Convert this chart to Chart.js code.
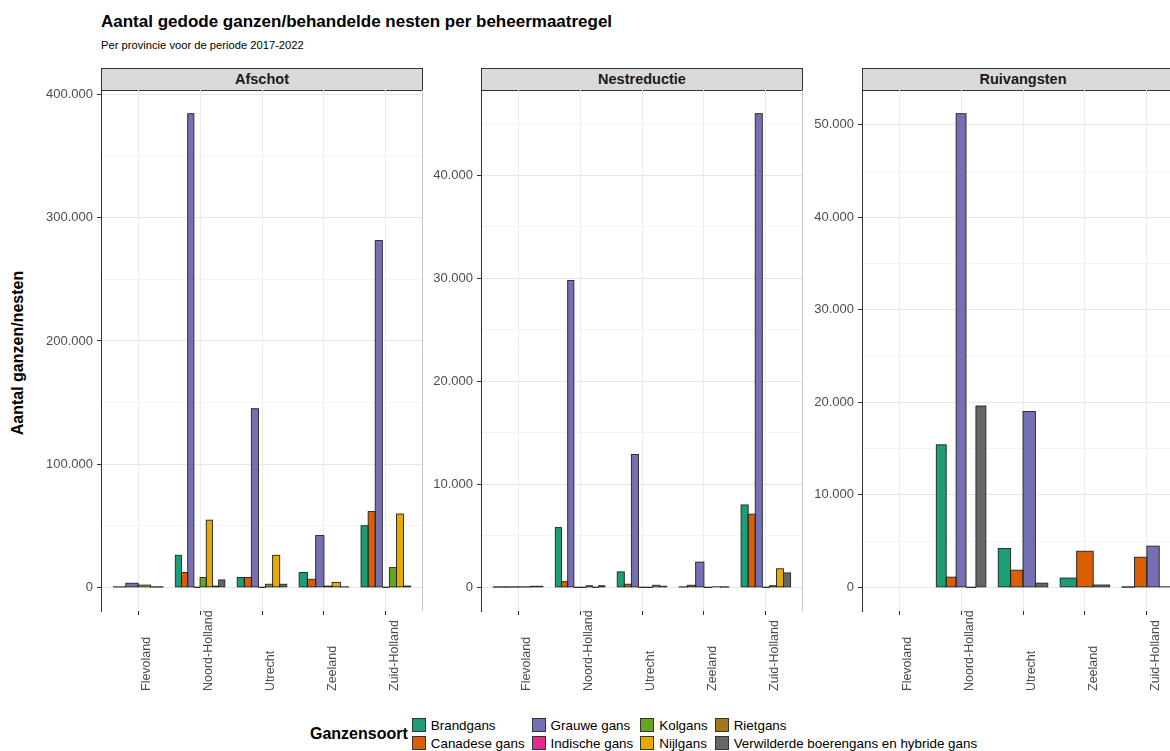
<!DOCTYPE html>
<html>
<head>
<meta charset="utf-8">
<title>Aantal gedode ganzen/behandelde nesten per beheermaatregel</title>
<script src="https://cdn.jsdelivr.net/npm/chart.js@4.4.0/dist/chart.umd.min.js"></script>
<style>
  html, body { margin: 0; padding: 0; background: #fff; }
  #page { position: relative; width: 1170px; height: 751px; overflow: hidden;
          font-family: "Liberation Sans", Arial, Helvetica, sans-serif; color: #000; }
  .title { position: absolute; left: 101px; top: 12px; font-size: 17px; font-weight: bold; white-space: nowrap; }
  .subtitle { position: absolute; left: 101px; top: 39px; font-size: 11.2px; white-space: nowrap; }
  .strip { position: absolute; top: 68px; height: 23px; box-sizing: border-box; border: 1px solid #333;
           background: #d9d9d9; font-weight: bold; font-size: 14.5px; text-align: center; line-height: 21px; color: #1a1a1a; }
  .panel { position: absolute; top: 76px; }
  .ytitle { position: absolute; left: 18px; top: 353px; transform: translate(-50%, -50%) rotate(-90deg);
            font-weight: bold; font-size: 16px; white-space: nowrap; }
  .legend { position: absolute; left: 310px; top: 716px; display: flex; align-items: center; }
  .legend .ltitle { font-weight: bold; font-size: 16px; margin-right: 4px; }
  .legend .items { display: grid; grid-template-rows: 18px 18px; grid-auto-flow: column; column-gap: 7px; }
  .legend .item { display: flex; align-items: center; font-size: 13.4px; white-space: nowrap; color: #000; }
  .legend .key { width: 14px; height: 14px; box-sizing: border-box; border: 1px solid #333; margin-right: 5px; }
</style>
</head>
<body>
<div id="page">
  <div class="title">Aantal gedode ganzen/behandelde nesten per beheermaatregel</div>
  <div class="subtitle">Per provincie voor de periode 2017-2022</div>
  <div class="ytitle">Aantal ganzen/nesten</div>
  <div id="panels"></div>
  <div class="legend"><div class="ltitle">Ganzensoort</div><div class="items" id="legendItems"></div></div>
</div>
<script>
// Provinces on the x axis of every facet
const provinces = ['Flevoland', 'Noord-Holland', 'Utrecht', 'Zeeland', 'Zuid-Holland'];

// Goose species (legend order) and their Dark2 colours
const species = ['Brandgans', 'Canadese gans', 'Grauwe gans', 'Indische gans',
                 'Kolgans', 'Nijlgans', 'Rietgans', 'Verwilderde boerengans en hybride gans'];
const speciesColors = ['#1B9E77', '#D95F02', '#7570B3', '#E7298A',
                       '#66A61E', '#E6AB02', '#A6761D', '#666666'];

// Management measures (one facet each)
const measures = ['Afschot', 'Nestreductie', 'Ruivangsten'];

// Afschot: one row per species, one value per province (null = not recorded)
const afschotValues = [
  [300,   26000,  8000,   12000, 50000],   // Brandgans
  [null,  12000,  8000,   6500,  61500],   // Canadese gans
  [3300,  384500, 145000, 42000, 281500],  // Grauwe gans
  [null,  0,      0,      null,  0],       // Indische gans
  [null,  8000,   2500,   1000,  16000],   // Kolgans
  [1800,  54500,  26000,  4000,  59500],   // Nijlgans
  [null,  1000,   null,   null,  null],    // Rietgans
  [200,   6000,   2500,   300,   1000]     // Verwilderde boerengans en hybride gans
];

// Nestreductie
const nestreductieValues = [
  [20,   5800,  1500,  30,   8000],   // Brandgans
  [20,   550,   300,   200,  7100],   // Canadese gans
  [30,   29800, 12900, 2450, 46000],  // Grauwe gans
  [null, 0,     0,     null, 0],      // Indische gans
  [null, 0,     0,     0,    150],    // Kolgans
  [null, 150,   200,   50,   1800],   // Nijlgans
  [null, 0,     null,  null, null],   // Rietgans
  [100,  150,   100,   20,   1400]    // Verwilderde boerengans en hybride gans
];

// Ruivangsten
const ruivangstenValues = [
  [null, 15400, 4200,  1000, 10],     // Brandgans
  [null, 1100,  1850,  3900, 3250],   // Canadese gans
  [null, 51200, 19000, 250,  4450],   // Grauwe gans
  [null, 0,     null,  null, null],   // Indische gans
  [null, null,  null,  null, null],   // Kolgans
  [null, null,  null,  null, null],   // Nijlgans
  [null, null,  null,  null, null],   // Rietgans
  [null, 19600, 450,   null, 50]      // Verwilderde boerengans en hybride gans
];

// Major y tick values per facet
const afschotTicks = [0, 100000, 200000, 300000, 400000];
const nestreductieTicks = [0, 10000, 20000, 30000, 40000];
const ruivangstenTicks = [0, 10000, 20000, 30000, 40000, 50000];

const facetValues = [afschotValues, nestreductieValues, ruivangstenValues];
const facetTicks = [afschotTicks, nestreductieTicks, ruivangstenTicks];

// Facet geometry
const plotLefts = [101, 481, 862];
const plotWidth = 322;
const yAxisWidth = 70;
const xAxisHeight = 90;
const padTop = 14;
const plotHeight = 521;
const fontFamily = '"Liberation Sans", Arial, Helvetica, sans-serif';

function fmtThousands(v) {
  return String(Math.round(v)).replace(/\B(?=(\d{3})+(?!\d))/g, '.');
}

// Outlines every bar (including near-zero ones) and draws the rotated province labels
const facetDecor = {
  id: 'facetDecor',
  afterDatasetsDraw(chart) {
    const { ctx } = chart;
    ctx.save();
    ctx.strokeStyle = '#222';
    ctx.lineWidth = 0.9;
    chart.data.datasets.forEach((ds, di) => {
      const meta = chart.getDatasetMeta(di);
      meta.data.forEach((bar, i) => {
        const v = ds.data[i].y;
        if (v === null || v === undefined) return;
        const p = bar.getProps(['x', 'y', 'base', 'width'], true);
        ctx.strokeRect(p.x - p.width / 2, Math.min(p.y, p.base), p.width, Math.abs(p.base - p.y));
      });
    });
    ctx.restore();
  },
  afterDraw(chart) {
    const { ctx, chartArea, scales } = chart;
    const x = scales.x;
    ctx.save();
    ctx.strokeStyle = '#c4c4c4';
    ctx.lineWidth = 1;
    ctx.beginPath();
    ctx.moveTo(chartArea.right - 0.5, chartArea.top);
    ctx.lineTo(chartArea.right - 0.5, chartArea.bottom);
    ctx.stroke();
    ctx.fillStyle = '#4d4d4d';
    ctx.font = '12.5px ' + fontFamily;
    ctx.textAlign = 'left';
    ctx.textBaseline = 'alphabetic';
    x.ticks.forEach(t => {
      const px = x.getPixelForValue(t.value);
      ctx.save();
      ctx.translate(px + 12, chartArea.bottom + 80);
      ctx.rotate(-Math.PI / 2);
      ctx.fillText(provinces[t.value - 1], 0, 0);
      ctx.restore();
    });
    ctx.restore();
  }
};

const panelsEl = document.getElementById('panels');

measures.forEach((measure, f) => {
  const values = facetValues[f];
  const majors = facetTicks[f];
  const step = majors[1] - majors[0];
  let maxVal = 0;
  values.forEach(row => row.forEach(v => { if (v !== null && v > maxVal) maxVal = v; }));
  const yMin = -0.05 * maxVal;
  const yMax = 1.05 * maxVal;
  const tickList = [];
  for (let v = 0; v <= yMax; v += step / 2) tickList.push(v);

  const strip = document.createElement('div');
  strip.className = 'strip';
  strip.style.left = plotLefts[f] + 'px';
  strip.style.width = plotWidth + 'px';
  strip.textContent = measure;
  panelsEl.appendChild(strip);

  const canvas = document.createElement('canvas');
  canvas.className = 'panel';
  canvas.width = yAxisWidth + plotWidth + 2;
  canvas.height = padTop + plotHeight + xAxisHeight;
  canvas.style.left = (plotLefts[f] - yAxisWidth) + 'px';
  panelsEl.appendChild(canvas);

  const datasets = species.map((name, s) => ({
    label: name,
    data: values[s].map((v, i) => ({ x: i + 1, y: v })),
    backgroundColor: speciesColors[s],
    borderWidth: 0,
    skipNull: true,
    categoryPercentage: 0.8,
    barPercentage: 1.0
  }));

  new Chart(canvas, {
    type: 'bar',
    data: { datasets },
    plugins: [facetDecor],
    options: {
      responsive: false,
      animation: false,
      layout: { padding: { top: padTop, right: 2, bottom: 0, left: 0 } },
      plugins: { legend: { display: false }, tooltip: { enabled: false } },
      scales: {
        x: {
          type: 'linear',
          min: 0.4,
          max: 5.6,
          offset: false,
          afterBuildTicks: s => { s.ticks = provinces.map((p, i) => ({ value: i + 1 })); },
          afterFit: s => { s.height = xAxisHeight; },
          ticks: { display: false },
          grid: { color: '#ebebeb', lineWidth: 1, offset: false, drawTicks: true, tickLength: 4, tickColor: '#333' },
          border: { display: false }
        },
        y: {
          min: yMin,
          max: yMax,
          afterBuildTicks: s => { s.ticks = tickList.map(v => ({ value: v })); },
          afterFit: s => { s.width = yAxisWidth; },
          ticks: {
            autoSkip: false,
            padding: 4,
            color: '#4d4d4d',
            font: { family: fontFamily, size: 13 },
            callback: v => (majors.includes(v) ? fmtThousands(v) : '')
          },
          grid: {
            color: c => (majors.includes(c.tick.value) ? '#e6e6e6' : '#f4f4f4'),
            tickColor: c => (majors.includes(c.tick.value) ? '#333' : 'rgba(0,0,0,0)'),
            tickLength: 4,
            lineWidth: 1
          },
          border: { color: '#333', width: 1 }
        }
      }
    }
  });
});

// Legend built from the species list
const legendEl = document.getElementById('legendItems');
species.forEach((name, s) => {
  const item = document.createElement('div');
  item.className = 'item';
  const key = document.createElement('span');
  key.className = 'key';
  key.style.background = speciesColors[s];
  const label = document.createElement('span');
  label.textContent = name;
  item.appendChild(key);
  item.appendChild(label);
  legendEl.appendChild(item);
});
</script>
</body>
</html>
